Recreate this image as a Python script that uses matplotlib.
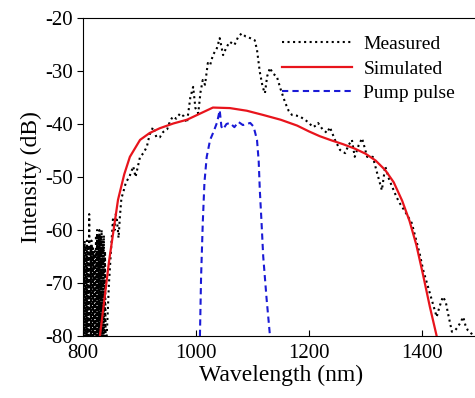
import numpy as np
import matplotlib.pyplot as plt

plt.rcParams['font.family'] = ['Liberation Serif', 'DejaVu Serif']
plt.rcParams['axes.unicode_minus'] = False

# measured spectrum (nm, dB)
meas_wl = [800, 801, 802, 803, 804, 805, 806, 807, 808, 809, 810, 811, 812, 813,
           814, 815, 816, 817, 818, 819, 820, 821, 822, 823, 824, 825, 826, 827,
           828, 829, 830, 831, 832, 833, 834, 835, 836, 837, 838, 839, 840, 842,
           846, 850, 853, 856, 858, 860, 863, 865, 868, 871, 876, 882, 889, 893,
           901, 907, 913, 918, 924, 930, 936, 942, 949, 954, 959, 965, 972, 978,
           984, 990, 995, 999, 1004, 1008, 1012, 1016, 1021, 1025, 1030, 1037,
           1042, 1048, 1054, 1060, 1068, 1075, 1081, 1088, 1096, 1104, 1108,
           1113, 1118, 1122, 1126, 1131, 1136, 1140, 1143, 1150, 1158, 1164,
           1170, 1177, 1184, 1193, 1200, 1207, 1212, 1216, 1224, 1232, 1237,
           1246, 1255, 1264, 1270, 1276, 1281, 1288, 1294, 1303, 1313, 1320,
           1329, 1335, 1342, 1348, 1355, 1361, 1370, 1382, 1390, 1396, 1402,
           1410, 1419, 1426, 1431, 1437, 1442, 1446, 1453, 1458, 1462, 1468,
           1473, 1477, 1481, 1487, 1494]
meas_db = [-80, -63, -80, -62, -80, -63, -80, -62, -80, -63, -80, -57, -80, -63,
           -80, -62, -80, -63, -80, -64, -80, -64, -80, -61, -80, -60, -80, -61,
           -80, -60, -80, -61, -80, -60, -80, -62, -80, -61, -80, -64, -80, -80,
           -70, -63, -58, -60, -57, -58, -61.5, -58, -54, -53, -51, -50, -48,
           -50, -46.2, -45.5, -44.3, -42, -40.6, -42.5, -42.5, -41.5, -41,
           -39.5, -38.6, -39, -38, -38.5, -39.8, -35, -33, -37, -38, -34,
           -31.7, -32.6, -28.5, -28.9, -27, -25.7, -23.8, -27, -25.5, -24.5,
           -25.1, -23.5, -22.9, -23.5, -23.8, -24.2, -26, -30.2, -33, -34.2,
           -31, -29.4, -30.5, -30.8, -31, -33.5, -36, -37.5, -38.3, -38.4,
           -38.6, -39.2, -39.8, -40.6, -40.3, -39.8, -41, -41.7, -40.6, -43,
           -44.9, -45.5, -44, -43, -46.2, -44, -42.7, -46.2, -46.2, -49, -52.5,
           -48, -50.5, -52, -53.8, -55, -56.5, -58.7, -62, -64.5, -67.5, -70.5,
           -73.8, -76.4, -74.5, -72.6, -73.5, -75.7, -79.2, -79, -78.5, -77.5,
           -76.4, -78, -78.9, -79.5, -80]

# simulated spectrum
sim_wl = [830, 846, 862, 873, 883, 901, 918, 936, 960, 984, 1008, 1030, 1060,
          1090, 1119, 1150, 1179, 1200, 1219, 1240, 1260, 1280, 1300, 1318,
          1335, 1350, 1365, 1378, 1390, 1402, 1414, 1426]
sim_db = [-80, -66, -54.3, -49.5, -46.2, -43, -41.7, -40.8, -39.9, -39.2, -38,
          -36.9, -37, -37.5, -38.3, -39.2, -40.3, -41.4, -42.3, -43.1, -43.8,
          -44.6, -45.6, -46.9, -48.7, -51, -54.5, -58.3, -62.8, -68.5, -74.5,
          -80]

# pump pulse
pump_wl = [1007, 1009, 1012, 1015, 1019, 1025, 1031, 1037, 1039, 1042, 1045,
           1048, 1054, 1060, 1068, 1075, 1083, 1090, 1096, 1102, 1108, 1111,
           1113, 1116, 1119, 1125, 1131]
pump_db = [-80, -69, -58.7, -51, -46.2, -43, -41.5, -39.8, -38.9, -37.4, -40.5,
           -41, -40, -39.8, -40.6, -39.6, -40.2, -40, -39.8, -40.5, -43, -47,
           -52.5, -58.5, -65, -73, -80]

fig = plt.figure(figsize=(4.75, 3.98), dpi=100)
ax = fig.add_axes([0.1747, 0.1558, 0.8326, 0.799])

ax.plot(meas_wl, meas_db, color='black', linestyle=':', linewidth=1.5, label='Measured')
ax.plot(sim_wl, sim_db, color='#e8141c', linewidth=1.6, label='Simulated')
ax.plot(pump_wl, pump_db, color='#1a1ad6', linestyle='--', linewidth=1.5,
        dashes=(3, 2), label='Pump pulse')

ax.set_xlim(800, 1500)
ax.set_ylim(-80, -20)
ax.set_xticks([800, 1000, 1200, 1400])
ax.set_yticks([-80, -70, -60, -50, -40, -30, -20])
ax.tick_params(axis='x', direction='in', length=4, labelsize=15, pad=6)
ax.tick_params(axis='y', direction='out', length=4, labelsize=15)
ax.set_xlabel('Wavelength (nm)', fontsize=17, labelpad=1)
ax.set_ylabel('Intensity (dB)', fontsize=17, labelpad=2)

ax.legend(loc='upper right', bbox_to_anchor=(0.985, 1.0), frameon=False,
          fontsize=14, handlelength=3.6, labelspacing=0.35, handletextpad=0.6)

fig.savefig('out.png', dpi=100)
